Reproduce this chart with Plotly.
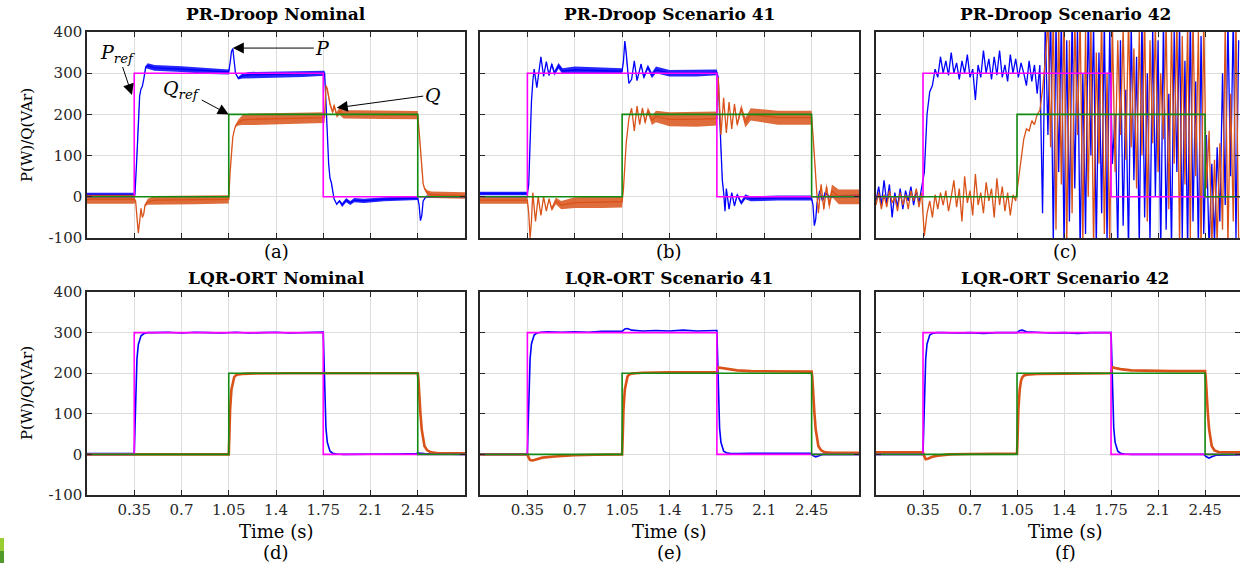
import plotly.graph_objects as go

# ---------------- data ----------------
tick_x = [0.35, 0.7, 1.05, 1.4, 1.75, 2.1, 2.45]
tick_x_text = ["0.35", "0.7", "1.05", "1.4", "1.75", "2.1", "2.45"]
tick_y = [-100, 0, 100, 200, 300, 400]
tick_y_text = ["-100", "0", "100", "200", "300", "400"]

titles = ["PR-Droop Nominal", "PR-Droop Scenario 41", "PR-Droop Scenario 42",
          "LQR-ORT Nominal", "LQR-ORT Scenario 41", "LQR-ORT Scenario 42"]
panel_labels = ["(a)", "(b)", "(c)", "(d)", "(e)", "(f)"]

Pref_t = [0, 0.35, 0.35, 1.75, 1.75, 2.8]
Pref_v = [0, 0, 300, 300, 0, 0]
Qref_t = [0, 1.05, 1.05, 2.45, 2.45, 2.8]
Qref_v = [0, 0, 200, 200, 0, 0]

# (a) PR-Droop nominal
Pa_t = [0, 0.35, 0.355, 0.37, 0.38, 0.39, 0.40, 0.41, 0.42, 0.435,
        0.45, 0.5, 0.7, 0.9, 1.05, 1.06, 1.07, 1.08, 1.09, 1.10,
        1.12, 1.15, 1.2, 1.4, 1.6, 1.76, 1.77, 1.78, 1.79, 1.80,
        1.81, 1.82, 1.83, 1.85, 1.87, 1.89, 1.92, 1.95, 1.98, 2.05,
        2.2, 2.45, 2.46, 2.47, 2.48, 2.49, 2.51, 2.8]
Pa_v = [5, 5, 5, 100, 195, 245, 262, 268, 285, 315,
        318, 313, 310, 305, 303, 325, 352, 360, 330, 300,
        288, 293, 296, 297, 298, 300, 230, 150, 80, 45,
        35, 15, -5, -18, -10, -20, -8, -15, -8, -10,
        -6, -3, -20, -58, -45, -10, 0, 0]
Pa_n = [5, 5, 0, 0, 0, 0, 0, 0, 0, 3,
        6, 7, 7, 7, 6, 0, 0, 0, 0, 0,
        3, 6, 7, 7, 7, 6, 0, 0, 0, 0,
        0, 0, 0, 0, 3, 5, 5, 5, 5, 5,
        5, 5, 0, 0, 0, 0, 3, 3]
Qa_t = [0, 0.35, 0.36, 0.37, 0.38, 0.39, 0.40, 0.41, 0.42, 0.43,
        0.45, 0.5, 0.8, 1.05, 1.06, 1.07, 1.08, 1.09, 1.10, 1.12,
        1.15, 1.2, 1.5, 1.76, 1.77, 1.78, 1.80, 1.82, 1.83, 1.85,
        1.87, 1.9, 2.0, 2.2, 2.45, 2.46, 2.47, 2.48, 2.49, 2.50,
        2.52, 2.55, 2.8]
Qa_v = [-6, -6, -10, -50, -88, -60, -28, -50, -42, -20,
        -12, -8, -7, -6, 60, 115, 145, 160, 172, 180,
        186, 188, 190, 192, 270, 262, 225, 205, 222, 198,
        208, 200, 200, 199, 198, 160, 110, 60, 32, 20,
        10, 5, 3]
Qa_n = [11, 11, 0, 0, 0, 0, 0, 0, 0, 3,
        7, 10, 11, 10, 0, 0, 0, 0, 3, 7,
        12, 14, 14, 13, 0, 3, 5, 5, 5, 7,
        9, 10, 10, 10, 10, 0, 0, 0, 0, 3,
        6, 8, 8]

# (b) PR-Droop scenario 41
Pb_t = [0, 0.35, 0.36, 0.37, 0.38, 0.39, 0.40, 0.42, 0.45, 0.47,
        0.49, 0.51, 0.53, 0.55, 0.58, 0.61, 0.7, 0.9, 1.05, 1.06,
        1.07, 1.08, 1.09, 1.10, 1.12, 1.14, 1.16, 1.19, 1.21, 1.24,
        1.27, 1.30, 1.4, 1.6, 1.75, 1.76, 1.77, 1.78, 1.79, 1.80,
        1.81, 1.82, 1.84, 1.86, 1.88, 1.90, 1.93, 1.96, 2.0, 2.2,
        2.45, 2.46, 2.47, 2.48, 2.49, 2.51, 2.53, 2.55, 2.58, 2.8]
Pb_v = [8, 8, 30, 140, 230, 280, 310, 265, 340, 292,
        328, 295, 322, 300, 318, 305, 308, 306, 305, 330,
        378, 350, 300, 275, 285, 330, 282, 322, 290, 315,
        295, 308, 300, 300, 302, 290, 200, 100, 41, 10,
        -35, 20, -30, 10, -22, 5, -15, 0, -5, -3,
        -3, -20, -70, -55, -15, 15, -10, 10, 0, 3]
Pb_n = [4, 4, 0, 0, 0, 0, 0, 0, 0, 0,
        0, 3, 5, 6, 7, 7, 8, 8, 7, 0,
        0, 0, 0, 0, 0, 0, 0, 3, 5, 6,
        7, 8, 8, 8, 7, 0, 0, 0, 0, 0,
        0, 0, 0, 0, 3, 4, 5, 6, 6, 6,
        6, 0, 0, 0, 0, 0, 3, 3, 3, 3]
Qb_t = [0, 0.35, 0.36, 0.37, 0.38, 0.39, 0.41, 0.43, 0.45, 0.47,
        0.49, 0.51, 0.53, 0.56, 0.6, 0.7, 0.9, 1.05, 1.06, 1.08,
        1.10, 1.12, 1.14, 1.16, 1.18, 1.20, 1.22, 1.24, 1.27, 1.30,
        1.4, 1.6, 1.75, 1.76, 1.78, 1.80, 1.82, 1.84, 1.86, 1.88,
        1.90, 1.93, 1.96, 2.0, 2.2, 2.45, 2.46, 2.47, 2.48, 2.49,
        2.50, 2.52, 2.54, 2.56, 2.58, 2.60, 2.65, 2.8]
Qb_v = [-8, -8, -40, -100, -60, 10, -60, 0, -45, 0,
        -35, -5, -30, -10, -20, -14, -13, -12, 20, 130,
        190, 215, 160, 220, 175, 215, 180, 210, 185, 195,
        188, 188, 190, 290, 150, 240, 155, 230, 165, 225,
        175, 215, 180, 200, 192, 192, 150, 90, 40, 0,
        -40, 30, -30, 25, -20, 15, 0, 0]
Qb_n = [9, 9, 0, 0, 0, 0, 0, 0, 0, 0,
        0, 3, 5, 8, 10, 13, 14, 14, 0, 0,
        0, 0, 0, 0, 0, 3, 6, 8, 11, 14,
        17, 18, 17, 0, 0, 0, 0, 0, 0, 3,
        6, 9, 12, 15, 17, 17, 0, 0, 0, 0,
        0, 3, 6, 9, 12, 15, 18, 18]

# (c) PR-Droop scenario 42 : samples every 0.02 s from t = 0
Pc_v = [-10, 25, -20, 40, -15, 30, -50, 10, -25, 20, -30, 15, -10, 25, -20, 15, -15, 20,
        60, 200, 255, 270, 310, 290, 340, 300, 330, 295,
        350, 300, 325, 285, 330, 300, 345, 290, 310, 235,
        320, 290, 355, 300, 335, 285, 340, 295, 355, 290,
        320, 280, 345, 300, 335, 290, 325, 300, 270, 330,
        280, 320, 250,
        320, -40, 420, 150, 450,
        -110, 420, 60, 430, -120, 380, -60, 440, 20, 410,
        -130, 300, -90, 450, 100, 420, -120, 350, -40, 430,
        -110, 410, 80, 200, -120, 380, -70, 260, -130, 420,
        40, 340, -120, 440, -50, 300, -110, 410, 0, 380,
        -130, 430, -80, 250, -120, 400, 60, 420, -100, 330,
        -130, 440, -60, 280, -120, 390, -90, 150, -130, 80,
        -110, 120, -60, 300, -20, 430, 50, 440, -100, 380]
Qc_v = [-20, 10, -30, 5, -25, 15, -15, 0, -35, 10, -20, 5, -30, 15, -10, 20, -25, 10,
        -95, -40, -10, -50, 5, -30, 10, -20, 15, -35,
        0, 40, -25, 20, -60, 50, -15, 15, -45, 55,
        -20, 10, -40, 35, -10, 20, -50, 45, -20, 25,
        -35, 10, -45, 5, -10,
        40, 100, 140, 165, 160, 185, 175, 200, 210, 260, 330, 430, 120,
        440, -80, 420, 30, 450, -120, 380, -40, 430, 150,
        440, -110, 400, 0, 420, -130, 350, 80, 440, -90,
        300, -120, 420, 60, 380, 150, 410, 90, 430, 120,
        360, 20, 400, 100, 440, -60, 380, 130, 420, 60,
        300, 140, 430, -30, 410, 80, 440, -120, 390, 30,
        420, -100, 440, 50, 400, -130, 430, 20, 160, -120,
        90, -110, 130, -80, 420, -120, 250, -60, 440, -110]
dt_c = 0.02

# (d) LQR-ORT nominal
Pd_t = [0, 0.35, 0.355, 0.36, 0.37, 0.38, 0.39, 0.40, 0.42, 0.45,
        0.5, 0.6, 0.7, 0.8, 0.9, 1.0, 1.1, 1.2, 1.3, 1.4,
        1.5, 1.6, 1.74, 1.75, 1.755, 1.76, 1.77, 1.78, 1.79, 1.80,
        1.82, 1.85, 1.9, 2.0, 2.1, 2.2, 2.3, 2.44, 2.45, 2.5, 2.8]
Pd_v = [2, 2, 60, 150, 235, 270, 285, 292, 297, 300,
        300, 301, 299, 301, 300, 299, 301, 299, 300, 301,
        299, 300, 301, 301, 240, 150, 65, 30, 15, 8,
        3, 1, 0, 0, 1, 0, 1, 2, 3, 2, 0]
Qd_t = [0, 1.05, 1.055, 1.06, 1.07, 1.08, 1.09, 1.10, 1.12, 1.15,
        1.2, 1.5, 1.8, 2.1, 2.44, 2.45, 2.455, 2.46, 2.47, 2.48,
        2.49, 2.50, 2.52, 2.55, 2.6, 2.8]
Qd_v = [0, 0, 50, 110, 160, 180, 190, 194, 197, 198,
        199, 200, 200, 200, 200, 200, 185, 150, 100, 60,
        35, 20, 10, 5, 3, 3]

# (e) LQR-ORT scenario 41
Pe_t = [0, 0.35, 0.355, 0.36, 0.37, 0.38, 0.39, 0.40, 0.42, 0.45,
        0.5, 0.6, 0.7, 0.8, 0.9, 1.0, 1.05, 1.07, 1.09, 1.12,
        1.2, 1.3, 1.4, 1.5, 1.6, 1.74, 1.75, 1.755, 1.76, 1.77,
        1.78, 1.79, 1.80, 1.82, 1.85, 1.9, 2.0, 2.2, 2.44, 2.46,
        2.48, 2.50, 2.53, 2.8]
Pe_v = [1, 1, 60, 150, 235, 272, 287, 294, 299, 301,
        302, 301, 302, 301, 303, 302, 303, 309, 310, 306,
        304, 305, 304, 306, 304, 305, 305, 245, 150, 65,
        30, 15, 8, 4, 2, 2, 3, 3, 3, -3,
        -6, -4, 0, 0]
Qe_t = [0, 0.35, 0.36, 0.37, 0.39, 0.42, 0.46, 0.55, 0.7, 0.85,
        1.05, 1.055, 1.06, 1.07, 1.08, 1.09, 1.10, 1.12, 1.15, 1.2,
        1.4, 1.6, 1.74, 1.75, 1.76, 1.78, 1.82, 1.9, 2.0, 2.2,
        2.44, 2.45, 2.455, 2.46, 2.47, 2.48, 2.49, 2.50, 2.52, 2.55,
        2.6, 2.8]
Qe_v = [0, 0, -8, -14, -15, -12, -8, -5, -2, -1,
        0, 50, 110, 160, 182, 192, 196, 199, 200, 201,
        202, 202, 202, 203, 214, 213, 210, 207, 205, 204,
        204, 204, 190, 155, 105, 62, 35, 20, 10, 5,
        4, 4]

# (f) LQR-ORT scenario 42
Pf_t = Pe_t
Pf_v = [0, 0, 60, 150, 235, 272, 287, 294, 298, 300,
        300, 299, 300, 298, 300, 299, 300, 305, 306, 302,
        300, 299, 300, 298, 300, 300, 300, 245, 150, 65,
        30, 15, 8, 3, 1, 0, 0, 0, 0, -6,
        -9, -6, -2, 0]
Qf_t = Qe_t
Qf_v = [5, 5, -5, -12, -10, -6, -3, 0, 1, 2,
        2, 50, 110, 160, 182, 190, 194, 196, 197, 198,
        199, 199, 200, 201, 215, 213, 210, 207, 206, 205,
        205, 205, 190, 155, 105, 62, 35, 20, 10, 6,
        5, 5]

# ---------------- styling ----------------
C_P = "#0000ff"
C_Q = "#d95319"
C_PREF = "#ff00ff"
C_QREF = "#138a13"
AX = "#262626"
GRID = "#dedede"
FONT = "DejaVu Serif"
W, H = 1240, 563

x_dom = [[87 / W, 465 / W], [480 / W, 859 / W], [876 / W, 1.0]]
x_rng = [[0, 2.8], [0, 2.8], [0, 2.71]]
y_dom = [[1 - 238 / H, 1 - 32 / H], [1 - 495 / H, 1 - 292 / H]]

fig = go.Figure()


def ax_names(i):
    s = "" if i == 1 else str(i)
    return "x" + s, "y" + s


def add_line(i, t, v, color, width):
    xa, ya = ax_names(i)
    fig.add_trace(go.Scatter(x=t, y=v, mode="lines", line=dict(color=color, width=width),
                             xaxis=xa, yaxis=ya, hoverinfo="skip", showlegend=False))


def add_band(i, t, v, n, color):
    xa, ya = ax_names(i)
    up = [a + b for a, b in zip(v, n)]
    lo = [a - b for a, b in zip(v, n)]
    fig.add_trace(go.Scatter(x=list(t) + list(t)[::-1], y=up + lo[::-1], mode="lines",
                             fill="toself", fillcolor=color, opacity=0.85, line=dict(width=0),
                             xaxis=xa, yaxis=ya, hoverinfo="skip", showlegend=False))


def add_refs(i):
    add_line(i, Pref_t, Pref_v, C_PREF, 1.6)
    add_line(i, Qref_t, Qref_v, C_QREF, 1.6)


# (a)
add_band(1, Pa_t, Pa_v, Pa_n, C_P)
add_line(1, Pa_t, Pa_v, C_P, 1.3)
add_band(1, Qa_t, Qa_v, Qa_n, C_Q)
add_line(1, Qa_t, Qa_v, C_Q, 1.3)
add_refs(1)
# (b)
add_band(2, Pb_t, Pb_v, Pb_n, C_P)
add_line(2, Pb_t, Pb_v, C_P, 1.3)
add_band(2, Qb_t, Qb_v, Qb_n, C_Q)
add_line(2, Qb_t, Qb_v, C_Q, 1.3)
add_refs(2)
# (c)
Pc_t = [round(k * dt_c, 3) for k in range(len(Pc_v))]
Qc_t = [round(k * dt_c, 3) for k in range(len(Qc_v))]
add_line(3, Pc_t, Pc_v, C_P, 1.3)
add_line(3, Qc_t, Qc_v, C_Q, 1.3)
add_refs(3)
# (d), (e), (f)
for i, (pt, pv, qt, qv) in zip([4, 5, 6], [(Pd_t, Pd_v, Qd_t, Qd_v), (Pe_t, Pe_v, Qe_t, Qe_v),
                                           (Pf_t, Pf_v, Qf_t, Qf_v)]):
    add_line(i, pt, pv, C_P, 1.6)
    add_line(i, qt, qv, C_Q, 2.6)
    add_refs(i)

layout = dict(width=W, height=H, margin=dict(l=0, r=0, t=0, b=0, autoexpand=False),
              autosize=False, paper_bgcolor="white", plot_bgcolor="white", showlegend=False)
for i in range(1, 7):
    r = 0 if i <= 3 else 1
    c = (i - 1) % 3
    s = "" if i == 1 else str(i)
    common = dict(tickmode="array", ticks="inside", ticklen=5, tickwidth=1, tickcolor=AX,
                  showline=True, linecolor=AX, linewidth=1.5, mirror="ticks",
                  showgrid=True, gridcolor=GRID, gridwidth=1, zeroline=False,
                  automargin=False, tickfont=dict(family=FONT, size=15, color=AX))
    layout["xaxis" + s] = dict(domain=x_dom[c], range=x_rng[c], anchor="y" + s,
                               tickvals=tick_x, ticktext=tick_x_text,
                               showticklabels=(r == 1), **common)
    layout["yaxis" + s] = dict(domain=y_dom[r], range=[-100, 400], anchor="x" + s,
                               tickvals=tick_y, ticktext=tick_y_text,
                               showticklabels=(c == 0), **common)
fig.update_layout(**layout)


def px_ann(text, x, y, size, **kw):
    fig.add_annotation(text=text, x=x / W, y=1 - y / H, xref="paper", yref="paper",
                       showarrow=False, xanchor="center", yanchor="middle",
                       font=dict(family=FONT, size=size, color="black"), **kw)


centers = [276, 669, 1065]
for i in range(6):
    r = i // 3
    c = i % 3
    px_ann("<b>" + titles[i] + "</b>", centers[c], 14 if r == 0 else 278, 17)
    px_ann(panel_labels[i], centers[c], 252 if r == 0 else 552, 18)
    if r == 1:
        px_ann("Time (s)", centers[c], 531, 18)
for yc in [135, 393]:
    px_ann("P(W)/Q(VAr)", 27, yc, 15, textangle=-90)


# labelled arrows in panel (a): x, y = arrow head; ax, ay = text offset (px)
def arrow_label(text, x, y, ax, ay):
    fig.add_annotation(x=x, y=y, xref="x", yref="y", ax=ax, ay=ay, text=text,
                       showarrow=True, arrowhead=2, arrowsize=2.2, arrowwidth=1,
                       arrowcolor="black", standoff=0,
                       font=dict(family=FONT, size=19, color="black"))


arrow_label("<i>P</i><sub><i>ref</i></sub>", 0.333, 247, -14, -42)
arrow_label("<i>Q</i><sub><i>ref</i></sub>", 1.05, 200, -47, -25)
arrow_label("<i>P</i>", 1.08, 361, 90, 0)
arrow_label("<i>Q</i>", 1.85, 216, 96, -13)

# small green mark at the bottom-left corner
fig.add_shape(type="rect", xref="paper", yref="paper", x0=0, x1=4 / W,
              y0=1 - 551 / H, y1=1 - 538 / H, fillcolor="#9acd32", line=dict(width=0))
fig.add_shape(type="rect", xref="paper", yref="paper", x0=0, x1=4 / W,
              y0=0, y1=1 - 551 / H, fillcolor="#4f9a2a", line=dict(width=0))

fig.write_html("out.html", config={"displayModeBar": False},
               post_script="document.body.style.margin='0px';")
